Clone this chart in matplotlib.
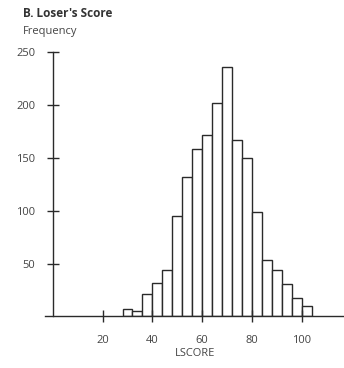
import matplotlib
matplotlib.use("Agg")
import matplotlib.pyplot as plt
import numpy as np

# Data: histogram of loser's score (bin width 4)
bin_left = [28, 32, 36, 40, 44, 48, 52, 56, 60, 64, 68, 72, 76, 80, 84, 88, 92, 96, 100]
counts = [7, 5, 21, 32, 44, 95, 132, 158, 171, 202, 236, 167, 150, 99, 53, 44, 31, 17, 10]
bin_width = 4
x_ticks = [20, 40, 60, 80, 100]
y_ticks = [50, 100, 150, 200, 250]

plt.rcParams['font.family'] = ['Open Sans', 'DejaVu Sans']
text_color = '#444444'
line_color = '#2a2a2a'

fig = plt.figure(figsize=(3.44, 3.68), dpi=100)
ax = fig.add_axes([0.132, 0.14, 0.868, 0.7195])

ax.bar(bin_left, counts, width=bin_width, align='edge', facecolor='white',
       edgecolor=line_color, linewidth=1.0)

ax.set_xlim(-3, 117)
ax.set_ylim(0, 250)

for s in ['top', 'right']:
    ax.spines[s].set_visible(False)
ax.spines['left'].set_position(('data', 0))
ax.spines['left'].set_color(line_color)
ax.spines['bottom'].set_color(line_color)
ax.spines['left'].set_linewidth(1.0)
ax.spines['bottom'].set_linewidth(1.0)

ax.set_xticks(x_ticks)
ax.set_yticks(y_ticks)
ax.tick_params(direction='inout', length=9, width=1.0, color=line_color,
               labelsize=8, labelcolor=text_color)
ax.tick_params(axis='y', pad=8)
ax.tick_params(axis='x', pad=9)

ax.set_xlabel('LSCORE', fontsize=8, color=text_color, labelpad=1)

fig.text(0.067, 0.962, "B. Loser's Score", fontsize=8.5, fontweight='bold',
         color='#333333', ha='left', va='center')
fig.text(0.067, 0.914, "Frequency", fontsize=8, color=text_color,
         ha='left', va='center')

fig.savefig('out.png', dpi=100, facecolor='white')
